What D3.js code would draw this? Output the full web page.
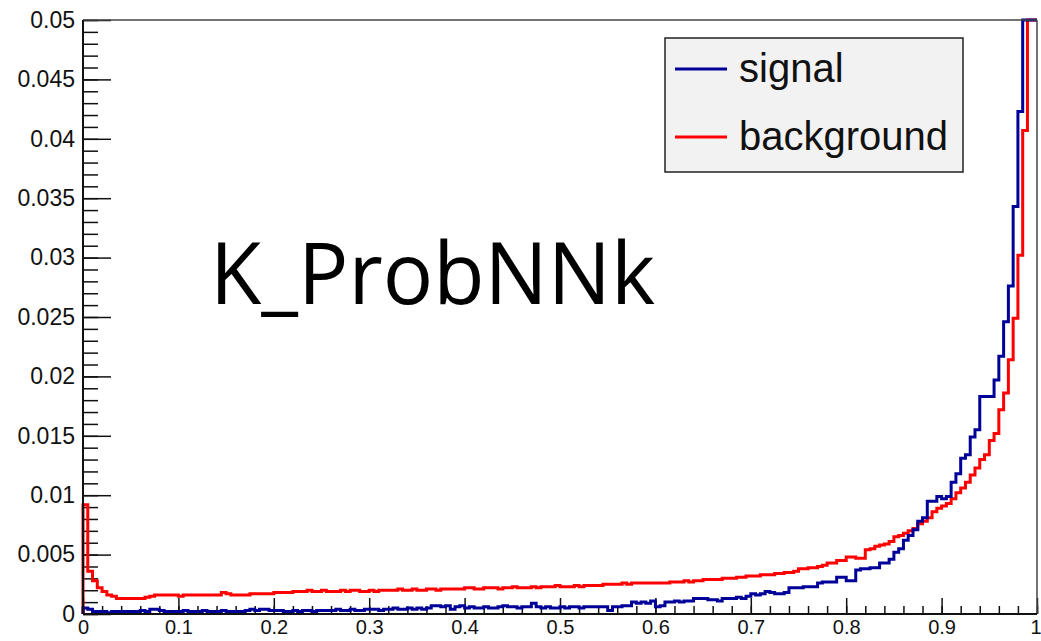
<!DOCTYPE html>
<html>
<head>
<meta charset="utf-8">
<script src="https://cdn.jsdelivr.net/npm/d3@7"></script>
<style>
  html, body { margin: 0; padding: 0; background: #ffffff; }
  svg { display: block; }
</style>
</head>
<body>
<div id="container"></div>
<script>
// histogram contents, 200 bins from 0 to 1 (normalised)
let signal = [
  0.0005, 0.0004, 0.0002, 0.0002, 0.0002, 0.0001, 0.0002, 0.0002, 0.0002, 0.0002,
  0.0002, 0.0002, 0.0003, 0.0002, 0.0004, 0.0004, 0.0003, 0.0002, 0.0002, 0.0002,
  0.0002, 0.0003, 0.0002, 0.0002, 0.0002, 0.0003, 0.0002, 0.0002, 0.0002, 0.0003,
  0.0002, 0.0002, 0.0002, 0.0002, 0.0003, 0.0004, 0.0003, 0.0004, 0.0004, 0.0003,
  0.0003, 0.0003, 0.0002, 0.0002, 0.0003, 0.0002, 0.0003, 0.0003, 0.0002, 0.0003,
  0.0003, 0.0003, 0.0003, 0.0004, 0.0003, 0.0003, 0.0004, 0.0003, 0.0003, 0.0004,
  0.0004, 0.0004, 0.0003, 0.0004, 0.0004, 0.0005, 0.0004, 0.0004, 0.0005, 0.0004,
  0.0005, 0.0004, 0.0005, 0.0007, 0.0007, 0.0006, 0.0007, 0.0004, 0.0006, 0.0007,
  0.0005, 0.0006, 0.0005, 0.0005, 0.0006, 0.0005, 0.0005, 0.0006, 0.0007, 0.0006,
  0.0006, 0.0005, 0.0006, 0.0006, 0.0009, 0.0006, 0.0005, 0.0006, 0.0005, 0.0005,
  0.0006, 0.0005, 0.0006, 0.0006, 0.0005, 0.0006, 0.0006, 0.0006, 0.0006, 0.0006,
  0.0003, 0.0006, 0.0006, 0.0007, 0.0007, 0.0010, 0.0009, 0.0010, 0.0009, 0.0011,
  0.0006, 0.0007, 0.0010, 0.0010, 0.0011, 0.0010, 0.0011, 0.0011, 0.0013, 0.0013,
  0.0013, 0.0012, 0.0012, 0.0011, 0.0013, 0.0013, 0.0013, 0.0014, 0.0013, 0.0015,
  0.0017, 0.0016, 0.0017, 0.0019, 0.0018, 0.0017, 0.0017, 0.0018, 0.0022, 0.0022,
  0.0022, 0.0023, 0.0023, 0.0023, 0.0026, 0.0027, 0.0027, 0.0027, 0.0031, 0.0031,
  0.0028, 0.0028, 0.0037, 0.0038, 0.0038, 0.0039, 0.0039, 0.0043, 0.0043, 0.0046,
  0.0052, 0.0055, 0.0062, 0.0066, 0.0071, 0.0078, 0.0081, 0.0095, 0.0095, 0.0099,
  0.0097, 0.0099, 0.0111, 0.0118, 0.0131, 0.0134, 0.0149, 0.0155, 0.0183, 0.0183,
  0.0183, 0.0197, 0.0217, 0.0246, 0.0276, 0.0343, 0.0423, 0.0620, 0.0850, 0.1100
];

let background = [
  0.0092, 0.0036, 0.0028, 0.0022, 0.0019, 0.0016, 0.0015, 0.0013, 0.0013, 0.0013,
  0.0013, 0.0013, 0.0013, 0.0014, 0.0015, 0.0016, 0.0016, 0.0016, 0.0016, 0.0016,
  0.0015, 0.0016, 0.0016, 0.0016, 0.0016, 0.0016, 0.0016, 0.0016, 0.0016, 0.0018,
  0.0017, 0.0016, 0.0016, 0.0016, 0.0016, 0.0017, 0.0017, 0.0017, 0.0017, 0.0017,
  0.0018, 0.0018, 0.0018, 0.0018, 0.0019, 0.0019, 0.0019, 0.0020, 0.0019, 0.0019,
  0.0020, 0.0019, 0.0019, 0.0019, 0.0020, 0.0019, 0.0020, 0.0020, 0.0019, 0.0019,
  0.0020, 0.0019, 0.0020, 0.0020, 0.0020, 0.0020, 0.0021, 0.0020, 0.0020, 0.0021,
  0.0020, 0.0020, 0.0021, 0.0021, 0.0020, 0.0021, 0.0021, 0.0021, 0.0021, 0.0021,
  0.0022, 0.0022, 0.0021, 0.0021, 0.0022, 0.0022, 0.0022, 0.0021, 0.0022, 0.0022,
  0.0023, 0.0022, 0.0022, 0.0022, 0.0023, 0.0022, 0.0023, 0.0023, 0.0023, 0.0024,
  0.0023, 0.0023, 0.0023, 0.0024, 0.0023, 0.0024, 0.0024, 0.0024, 0.0024, 0.0025,
  0.0025, 0.0025, 0.0025, 0.0026, 0.0025, 0.0026, 0.0026, 0.0026, 0.0026, 0.0026,
  0.0026, 0.0026, 0.0026, 0.0027, 0.0027, 0.0027, 0.0028, 0.0027, 0.0028, 0.0028,
  0.0029, 0.0029, 0.0029, 0.0029, 0.0030, 0.0030, 0.0030, 0.0031, 0.0031, 0.0032,
  0.0032, 0.0032, 0.0033, 0.0033, 0.0033, 0.0034, 0.0034, 0.0035, 0.0035, 0.0036,
  0.0038, 0.0038, 0.0039, 0.0039, 0.0040, 0.0041, 0.0043, 0.0043, 0.0045, 0.0045,
  0.0048, 0.0048, 0.0047, 0.0047, 0.0054, 0.0055, 0.0057, 0.0058, 0.0059, 0.0061,
  0.0065, 0.0066, 0.0068, 0.0070, 0.0072, 0.0076, 0.0078, 0.0081, 0.0086, 0.0089,
  0.0091, 0.0093, 0.0097, 0.0102, 0.0106, 0.0111, 0.0117, 0.0123, 0.0130, 0.0134,
  0.0146, 0.0152, 0.0172, 0.0186, 0.0214, 0.0249, 0.0302, 0.0407, 0.0580, 0.0750
];

let xTickValues = [0, 0.1, 0.2, 0.3, 0.4, 0.5, 0.6, 0.7, 0.8, 0.9, 1];
let yTickValues = [0, 0.005, 0.01, 0.015, 0.02, 0.025, 0.03, 0.035, 0.04, 0.045, 0.05];
let legendLabels = ["signal", "background"];
let legendColors = ["#000099", "#ff0000"];
let title = "K_ProbNNk";

let w = 1041;
let h = 641;
let xLeft = 83;
let xRight = 1037;
let yTop = 20;
let yBottom = 614;

let viz = d3.select("#container")
  .append("svg")
  .attr("width", w)
  .attr("height", h)
  .style("background-color", "#ffffff");

let xScale = d3.scaleLinear().domain([0, 1]).range([xLeft, xRight]);
let yScale = d3.scaleLinear().domain([0, 0.05]).range([yBottom, yTop]);

let fmt = d => (d === 0 ? "0" : String(+d.toFixed(3)));

// minor ticks first, then major ticks with labels
viz.append("g")
  .attr("transform", `translate(0, ${yBottom})`)
  .call(d3.axisBottom(xScale).tickValues(d3.range(0, 51).map(i => i / 50)).tickSize(-8).tickFormat(""))
  .call(g => g.select(".domain").remove());

let xAxis = viz.append("g")
  .attr("transform", `translate(0, ${yBottom})`)
  .call(d3.axisBottom(xScale).tickValues(xTickValues).tickSize(-16).tickPadding(6).tickFormat(fmt));
xAxis.select(".domain").remove();
xAxis.selectAll("text")
  .attr("font-family", "Liberation Sans, Arial, sans-serif")
  .attr("font-size", "20px")
  .attr("fill", "#111");
// the last label sits on the window edge, keep it inside
xAxis.selectAll("text").filter(d => d === 1)
  .attr("text-anchor", "end")
  .attr("x", 4);

viz.append("g")
  .attr("transform", `translate(${xLeft}, 0)`)
  .call(d3.axisLeft(yScale).tickValues(d3.range(0, 51).map(i => i / 1000)).tickSize(-15).tickFormat(""))
  .call(g => g.select(".domain").remove());

let yAxis = viz.append("g")
  .attr("transform", `translate(${xLeft}, 0)`)
  .call(d3.axisLeft(yScale).tickValues(yTickValues).tickSize(-28).tickPadding(8).tickFormat(fmt));
yAxis.select(".domain").remove();
yAxis.selectAll("text")
  .attr("font-family", "Liberation Sans, Arial, sans-serif")
  .attr("font-size", "23px")
  .attr("fill", "#111");

viz.selectAll(".tick line").attr("stroke", "#111").attr("stroke-width", 1.5);

// histograms drawn as steps, clamped at the frame top like ROOT does
function stepPath(values) {
  let n = values.length;
  let pts = values.map((v, i) => [i / n, Math.min(v, 0.05)]);
  pts.push([1, Math.min(values[n - 1], 0.05)]);
  let line = d3.line()
    .x(d => xScale(d[0]))
    .y(d => yScale(d[1]))
    .curve(d3.curveStepAfter);
  return line([[0, 0]].concat(pts));
}

viz.append("path")
  .attr("d", stepPath(background))
  .attr("fill", "none")
  .attr("stroke", legendColors[1])
  .attr("stroke-width", 3);

viz.append("path")
  .attr("d", stepPath(signal))
  .attr("fill", "none")
  .attr("stroke", legendColors[0])
  .attr("stroke-width", 3);

// frame
viz.append("line").attr("x1", xLeft).attr("x2", xRight).attr("y1", yTop).attr("y2", yTop)
  .attr("stroke", "#444").attr("stroke-width", 1.5);
viz.append("line").attr("x1", xRight).attr("x2", xRight).attr("y1", yTop).attr("y2", yBottom)
  .attr("stroke", "#444").attr("stroke-width", 1.5);
viz.append("line").attr("x1", xLeft).attr("x2", xRight).attr("y1", yBottom).attr("y2", yBottom)
  .attr("stroke", "#111").attr("stroke-width", 2);
viz.append("line").attr("x1", xLeft).attr("x2", xLeft).attr("y1", yTop).attr("y2", yBottom)
  .attr("stroke", "#111").attr("stroke-width", 2);

// legend
let legend = viz.append("g").attr("transform", "translate(665, 38)");
legend.append("rect")
  .attr("width", 298)
  .attr("height", 134)
  .attr("fill", "#f2f2f2")
  .attr("stroke", "#222")
  .attr("stroke-width", 1.5);

legendLabels.forEach((label, i) => {
  let y = 31 + i * 68;
  legend.append("line")
    .attr("x1", 10).attr("x2", 62)
    .attr("y1", y).attr("y2", y)
    .attr("stroke", legendColors[i])
    .attr("stroke-width", 3);
  legend.append("text")
    .text(label)
    .attr("x", 74)
    .attr("y", y + 13)
    .attr("font-family", "Liberation Sans, Arial, sans-serif")
    .attr("font-size", "40px")
    .attr("fill", "#111");
});

// big variable name
viz.append("text")
  .text(title)
  .attr("x", 210)
  .attr("y", 304)
  .attr("font-family", "Open Sans, Noto Sans, sans-serif")
  .attr("font-size", "86px")
  .attr("textLength", 445)
  .attr("lengthAdjust", "spacingAndGlyphs")
  .attr("fill", "#000");
</script>
</body>
</html>
